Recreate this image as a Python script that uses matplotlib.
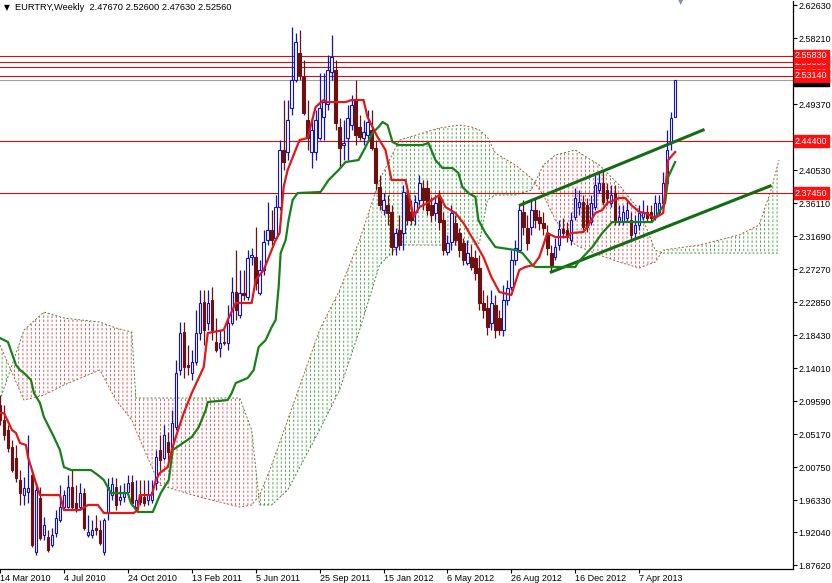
import numpy as np
import matplotlib.pyplot as plt
import matplotlib.transforms as mtransforms
from matplotlib.patches import Rectangle

TITLE = "EURTRY,Weekly  2.47670 2.52600 2.47630 2.52560"

# weekly candles, bar 0 = week of 14 Mar 2010
opens = [
    2.0908, 2.0707, 2.0574, 2.0346, 2.0199, 1.9904, 1.9703, 1.9743, 1.9971, 1.8940,
    1.9663, 1.9168, 1.9141, 1.9034, 1.9195, 1.9369, 1.9543, 1.9543, 1.9810, 1.9597,
    1.9543, 1.9730, 1.9168, 1.9168, 1.9262, 1.9235, 1.8940, 1.9463, 1.9703, 1.9810,
    1.9637, 1.9676, 1.9743, 1.9877, 1.9543, 1.9703, 1.9676, 1.9637, 1.9637, 1.9864,
    2.0306, 2.0199, 2.0413, 2.0346, 2.0613, 2.1377, 2.1885, 2.1444, 2.1337, 2.1484,
    2.1872, 2.2287, 2.2006, 2.2314, 2.1751, 2.1672, 2.1751, 2.1738, 2.2006, 2.2421,
    2.2113, 2.2408, 2.2354, 2.2889, 2.2889, 2.2408, 2.2716, 2.3117, 2.3251, 2.3144,
    2.3559, 2.4322, 2.4295, 2.4884, 2.5259, 2.5621, 2.5299, 2.4724, 2.4295, 2.4295,
    2.4483, 2.4764, 2.4937, 2.5366, 2.5393, 2.4630, 2.4389, 2.4483, 2.4657, 2.4991,
    2.4630, 2.4483, 2.4523, 2.4590, 2.4349, 2.3827, 2.3519, 2.3586, 2.3492, 2.3023,
    2.3251, 2.3211, 2.3720, 2.3492, 2.3492, 2.3653, 2.3813, 2.3813, 2.3586, 2.3479,
    2.3693, 2.3385, 2.2956, 2.3090, 2.3345, 2.3211, 2.3077, 2.2809, 2.2889, 2.2876,
    2.2742, 2.2274, 2.2207, 2.2006, 2.2247, 2.2073, 2.1912, 2.2314, 2.2488, 2.2849,
    2.2983, 2.3492, 2.3278, 2.3291, 2.3519, 2.3425, 2.3345, 2.3211, 2.2943, 2.2889,
    2.3050, 2.3265, 2.3251, 2.3117, 2.3425, 2.3559, 2.3626, 2.3586, 2.3358, 2.3559,
    2.3786, 2.3880, 2.3786, 2.3613, 2.3746, 2.3358, 2.3358, 2.3412, 2.3385, 2.3211,
    2.3318, 2.3425, 2.3492, 2.3492, 2.3425, 2.3492, 2.3613, 2.3880, 2.4429, 2.4767,
]
highs = [
    2.1042, 2.0908, 2.0640, 2.0440, 2.0373, 2.0038, 1.9944, 2.0507, 2.0038, 1.9864,
    1.9810, 1.9409, 1.9235, 1.9262, 1.9503, 1.9837, 1.9770, 1.9971, 2.0038, 1.9837,
    1.9864, 1.9797, 1.9436, 1.9369, 1.9436, 1.9369, 1.9396, 1.9931, 1.9944, 1.9931,
    1.9837, 1.9864, 1.9971, 1.9971, 1.9904, 1.9904, 1.9904, 1.9904, 1.9904, 2.0306,
    2.0507, 2.0640, 2.0547, 2.0841, 2.1511, 2.2019, 2.2019, 2.1711, 2.1645, 2.2180,
    2.2448, 2.2448, 2.2448, 2.2488, 2.2073, 2.1912, 2.1912, 2.2247, 2.2622, 2.2983,
    2.2716, 2.2716, 2.2983, 2.3010, 2.3291, 2.2849, 2.3251, 2.3626, 2.3519, 2.3720,
    2.4456, 2.4991, 2.4991, 2.5969, 2.5888, 2.5928, 2.5527, 2.4991, 2.4750, 2.4857,
    2.5353, 2.5353, 2.5594, 2.5862, 2.5527, 2.4750, 2.4724, 2.4924, 2.5058, 2.5259,
    2.4790, 2.4724, 2.4857, 2.4857, 2.4456, 2.3987, 2.3746, 2.3720, 2.3586, 2.3278,
    2.3452, 2.3853, 2.3786, 2.3653, 2.3720, 2.3987, 2.3920, 2.3920, 2.3693, 2.3720,
    2.3786, 2.3492, 2.3184, 2.3586, 2.3452, 2.3278, 2.3144, 2.3117, 2.3050, 2.2983,
    2.2916, 2.2448, 2.2381, 2.2448, 2.2381, 2.2180, 2.2515, 2.2582, 2.2983, 2.3117,
    2.3586, 2.3653, 2.3452, 2.3653, 2.3680, 2.3519, 2.3492, 2.3318, 2.3050, 2.3144,
    2.3385, 2.3412, 2.3358, 2.3492, 2.3813, 2.3786, 2.3720, 2.3680, 2.3720, 2.3987,
    2.4027, 2.4054, 2.3880, 2.3853, 2.3853, 2.3586, 2.3586, 2.3653, 2.3492, 2.3452,
    2.3586, 2.3653, 2.3586, 2.3586, 2.3720, 2.3720, 2.4027, 2.4590, 2.4830, 2.5260,
]
lows = [
    2.0640, 2.0440, 2.0279, 2.0011, 1.9877, 1.9570, 1.9570, 1.9597, 1.9007, 1.8900,
    1.9101, 1.9101, 1.8940, 1.9007, 1.9141, 1.9342, 1.9503, 1.9530, 1.9503, 1.9476,
    1.9503, 1.9235, 1.9141, 1.9128, 1.9168, 1.9034, 1.8900, 1.9369, 1.9637, 1.9503,
    1.9570, 1.9610, 1.9703, 1.9557, 1.9503, 1.9570, 1.9557, 1.9570, 1.9597, 1.9770,
    2.0038, 2.0172, 2.0172, 2.0306, 2.0574, 2.1310, 2.1270, 2.1310, 2.1243, 2.1444,
    2.1778, 2.1711, 2.1912, 2.1778, 2.1618, 2.1551, 2.1711, 2.1645, 2.1979, 2.2046,
    2.2073, 2.2314, 2.2314, 2.2782, 2.2448, 2.2381, 2.2649, 2.3050, 2.3050, 2.3117,
    2.3519, 2.4054, 2.4188, 2.4790, 2.5232, 2.5259, 2.4790, 2.4322, 2.4081, 2.4188,
    2.4456, 2.4456, 2.4857, 2.5259, 2.4590, 2.4081, 2.4188, 2.4188, 2.4590, 2.4389,
    2.4456, 2.4389, 2.4456, 2.4322, 2.3786, 2.3519, 2.3452, 2.3318, 2.2916, 2.2916,
    2.2983, 2.2983, 2.3318, 2.3318, 2.3318, 2.3586, 2.3519, 2.3452, 2.3358, 2.3385,
    2.3251, 2.2916, 2.2916, 2.2983, 2.3050, 2.2889, 2.2782, 2.2782, 2.2716, 2.2582,
    2.2180, 2.2073, 2.1845, 2.1912, 2.1805, 2.1845, 2.1832, 2.2247, 2.2448, 2.2782,
    2.2956, 2.3184, 2.2983, 2.3184, 2.3278, 2.3251, 2.3184, 2.2916, 2.2689, 2.2849,
    2.2983, 2.3144, 2.3090, 2.3050, 2.3385, 2.3452, 2.3224, 2.3224, 2.3318, 2.3519,
    2.3746, 2.3586, 2.3586, 2.3559, 2.3318, 2.3318, 2.3318, 2.3358, 2.3117, 2.3144,
    2.3251, 2.3385, 2.3358, 2.3358, 2.3385, 2.3452, 2.3586, 2.3853, 2.4322, 2.4763,
]
closes = [
    2.0707, 2.0507, 2.0333, 2.0038, 1.9931, 1.9730, 1.9797, 1.9797, 1.9034, 1.9770,
    1.9128, 1.9302, 1.8967, 1.9168, 1.9396, 1.9543, 1.9703, 1.9810, 1.9543, 1.9530,
    1.9730, 1.9262, 1.9208, 1.9235, 1.9235, 1.9061, 1.9369, 1.9810, 1.9850, 1.9570,
    1.9676, 1.9730, 1.9864, 1.9597, 1.9637, 1.9610, 1.9597, 1.9703, 1.9743, 2.0212,
    2.0172, 2.0507, 2.0279, 2.0667, 2.1337, 2.1872, 2.1417, 2.1417, 2.1484, 2.1872,
    2.2274, 2.1912, 2.2274, 2.1912, 2.1645, 2.1738, 2.1738, 2.2006, 2.2421, 2.2180,
    2.2408, 2.2381, 2.2876, 2.2916, 2.2542, 2.2716, 2.3090, 2.3251, 2.3117, 2.3559,
    2.4322, 2.4161, 2.4724, 2.5259, 2.5768, 2.5326, 2.4817, 2.4483, 2.4590, 2.4724,
    2.4884, 2.4964, 2.5393, 2.5567, 2.4683, 2.4349, 2.4416, 2.4750, 2.4924, 2.4523,
    2.4496, 2.4563, 2.4697, 2.4349, 2.3880, 2.3586, 2.3653, 2.3479, 2.3023, 2.3211,
    2.3050, 2.3760, 2.3385, 2.3385, 2.3626, 2.3880, 2.3653, 2.3519, 2.3452, 2.3613,
    2.3358, 2.2983, 2.3077, 2.3479, 2.3117, 2.2983, 2.2849, 2.2943, 2.2756, 2.2675,
    2.2274, 2.2180, 2.1952, 2.2274, 2.1912, 2.1912, 2.2314, 2.2475, 2.2849, 2.3010,
    2.3519, 2.3291, 2.3077, 2.3519, 2.3385, 2.3345, 2.3278, 2.3010, 2.2756, 2.3023,
    2.3265, 2.3211, 2.3157, 2.3385, 2.3680, 2.3626, 2.3291, 2.3291, 2.3613, 2.3853,
    2.3880, 2.3626, 2.3680, 2.3720, 2.3385, 2.3425, 2.3492, 2.3519, 2.3184, 2.3318,
    2.3479, 2.3492, 2.3412, 2.3412, 2.3613, 2.3613, 2.3880, 2.4322, 2.4750, 2.5256,
]

# Ichimoku lines (bar, price)
tenkan_bars = [
    0, 1, 3, 4, 5, 6.5, 7, 8, 9, 10, 15, 16, 20, 22, 24.5, 26, 33.5, 34.5, 35, 38,
    39, 40, 42, 43, 44, 46, 48, 51, 52, 56, 57, 59, 63, 64, 66, 67, 69, 70, 71, 72,
    73, 75, 77, 79, 81, 82, 86.5, 88, 91, 92, 94.5, 96.5, 98, 101.5, 103, 103.5, 105,
    107, 110, 111.5, 114, 116, 119, 121, 123, 125, 128, 130, 131.5, 133.5, 135, 137,
    139, 142, 143, 146, 147, 149, 150.75, 152, 155, 156.5, 158, 160, 161.5, 164, 166,
    167, 167.25, 169,
]
tenkan = [
    2.0801, 2.0801, 2.0574, 2.0534, 2.0400, 2.0373, 2.0212, 2.0038, 1.9864, 1.9703,
    1.9703, 1.9503, 1.9503, 1.9570, 1.9570, 1.9463, 1.9463, 1.9503, 1.9703, 1.9703,
    1.9904, 1.9998, 2.0078, 2.0306, 2.0480, 2.0801, 2.1069, 2.1417, 2.1872, 2.1912,
    2.2046, 2.2274, 2.2274, 2.2582, 2.2716, 2.2849, 2.3117, 2.3211, 2.3827, 2.4054,
    2.4188, 2.4456, 2.4483, 2.4898, 2.4991, 2.4964, 2.4964, 2.4991, 2.4991, 2.4764,
    2.4496, 2.4322, 2.3920, 2.3920, 2.3559, 2.3425, 2.3559, 2.3613, 2.3720, 2.3559,
    2.3479, 2.3345, 2.3077, 2.2889, 2.2622, 2.2421, 2.2381, 2.2716, 2.2756, 2.2782,
    2.2889, 2.3211, 2.3157, 2.3157, 2.3211, 2.3224, 2.3291, 2.3479, 2.3519, 2.3613,
    2.3680, 2.3680, 2.3586, 2.3492, 2.3479, 2.3412, 2.3479, 2.4054, 2.4188, 2.4295,
]
kijun_bars = [
    0, 2, 4, 5, 6, 7.75, 8.5, 10, 11, 13.5, 15, 16, 17.75, 22.75, 24.5, 26, 27.75, 32,
    32.75, 34.5, 38.25, 39.5, 40.25, 42.25, 43.25, 48, 49.75, 51.5, 52, 57, 58, 59, 62,
    63.5, 64.75, 66.5, 68, 69, 69.75, 70.25, 71.5, 72.25, 73.25, 74.5, 80.25, 82.25,
    84.75, 86.5, 89.75, 91.5, 93.25, 94.75, 95.75, 97, 98.25, 99.75, 105.75, 107.25,
    109, 110.75, 113.25, 114.75, 115.75, 117.25, 119, 119.75, 121.5, 124, 129, 130.75,
    133.25, 134, 144, 144.75, 148.25, 149.5, 150.75, 153.25, 163.25, 166.5, 167.25, 169,
]
kijun = [
    2.1805, 2.1751, 2.1444, 2.1377, 2.1337, 2.1243, 2.1069, 2.0935, 2.0747, 2.0480,
    2.0306, 2.0078, 2.0038, 2.0038, 1.9971, 1.9904, 1.9730, 1.9730, 1.9597, 1.9476,
    1.9476, 1.9637, 1.9730, 1.9904, 2.0306, 2.0480, 2.0613, 2.0841, 2.0948, 2.0975,
    2.1069, 2.1203, 2.1270, 2.1377, 2.1685, 2.1778, 2.1952, 2.2046, 2.2488, 2.2943,
    2.3117, 2.3385, 2.3653, 2.3746, 2.3760, 2.3920, 2.4054, 2.4161, 2.4188, 2.4362,
    2.4550, 2.4630, 2.4697, 2.4657, 2.4429, 2.4389, 2.4389, 2.4416, 2.4188, 2.4081,
    2.4081, 2.4014, 2.3827, 2.3746, 2.3693, 2.3385, 2.3211, 2.3023, 2.2983, 2.2943,
    2.2782, 2.2756, 2.2756, 2.2822, 2.3023, 2.3117, 2.3211, 2.3358, 2.3358, 2.3613,
    2.3961, 2.4161,
]
cloud_bars = [0, 6, 11, 16, 25, 29, 33, 34, 37, 40, 50, 60, 63, 65, 68, 72, 80, 85,
              90, 95, 100, 110, 115, 118, 120, 122, 124, 129, 133, 136, 139, 144,
              150, 155, 160, 164, 166, 175, 185, 190, 193, 195]
span_a = [2.1711, 2.0975, 2.1042, 2.1176, 2.1377, 2.0975, 2.0707, 2.0574, 2.0199,
          1.9837, 1.9676, 1.9543, 1.9570, 1.9703, 2.0105, 2.0707, 2.1912, 2.2448,
          2.3117, 2.3920, 2.4456, 2.4617, 2.4657, 2.4630, 2.4590, 2.4496, 2.4282,
          2.4121, 2.3947, 2.3720, 2.3385, 2.3050, 2.2916, 2.2822, 2.2743, 2.2822,
          2.2983, 2.3050, 2.3184, 2.3318, 2.3786, 2.4188]
span_b = [2.0975, 2.1912, 2.2153, 2.2073, 2.2019, 2.1939, 2.1885, 2.1002, 2.1002,
          2.1002, 2.1002, 2.1002, 2.0574, 1.9570, 1.9570, 1.9770, 2.0574, 2.1109,
          2.1912, 2.2782, 2.3050, 2.3050, 2.3050, 2.3050, 2.3077, 2.3653, 2.3720,
          2.3720, 2.3786, 2.4121, 2.4255, 2.4322, 2.4121, 2.3853, 2.3519, 2.2983,
          2.2943, 2.2943, 2.2943, 2.2943, 2.2943, 2.2943]

# drawn objects
levels = [2.5583, 2.5500, 2.5430, 2.5314, 2.4440, 2.3745]
bid = 2.5256
chan_upper_bars = [130.25, 176]
chan_upper = [2.3586, 2.4590]
chan_lower_bars = [138, 192.75]
chan_lower = [2.2689, 2.3840]

ytick_vals = [2.6263, 2.5821, 2.5379, 2.4937, 2.4495, 2.4053, 2.3611, 2.3169, 2.2727,
              2.2285, 2.1843, 2.1401, 2.0959, 2.0517, 2.0075, 1.9633, 1.9204, 1.8762]
date_bars = [0, 16, 32, 48, 64, 80, 96, 112, 128, 144, 160]
date_labels = ["14 Mar 2010", "4 Jul 2010", "24 Oct 2010", "13 Feb 2011", "5 Jun 2011",
               "25 Sep 2011", "15 Jan 2012", "6 May 2012", "26 Aug 2012", "16 Dec 2012",
               "7 Apr 2013"]

BULL = "#1010d0"
BEAR = "#6e1010"
FS = 6.5
FONT = ["Liberation Sans", "DejaVu Sans"]


def draw_cloud(ax):
    a = np.array(span_a)
    b = np.array(span_b)
    up = a >= b
    plt.rcParams["hatch.linewidth"] = 0.6
    ax.fill_between(cloud_bars, a, b, where=up, interpolate=True,
                    facecolor="none", edgecolor="#3a9a3a", hatch="||||", lw=0, zorder=1)
    ax.fill_between(cloud_bars, a, b, where=~up, interpolate=True,
                    facecolor="none", edgecolor="#d04848", hatch="||||", lw=0, zorder=1)
    # break the hatch into dots like the terminal does
    plt.rcParams["hatch.linewidth"] = 1.3
    ax.fill_between(cloud_bars, a, b, interpolate=True, facecolor="none",
                    edgecolor="white", hatch="----", lw=0, zorder=1.2)
    ax.plot(cloud_bars, a, color="#b05a3c", lw=0.7, ls=(0, (2, 2)), zorder=1.5)
    ax.plot(cloud_bars, b, color="#3c8a3c", lw=0.7, ls=(0, (2, 2)), zorder=1.5)


def draw_candles(ax):
    for i, (o, h, l, c) in enumerate(zip(opens, highs, lows, closes)):
        up = c >= o
        col = BULL if up else BEAR
        ax.vlines(i, l, h, color=col, lw=0.9, zorder=4)
        lo, hi = min(o, c), max(o, c)
        ax.add_patch(Rectangle((i - 0.3, lo), 0.6, max(hi - lo, 0.0004),
                               facecolor="white" if up else BEAR, edgecolor=col,
                               lw=0.8, zorder=5))


def price_box(ax, y, text, fc, tc="white"):
    trans = mtransforms.blended_transform_factory(ax.transAxes, ax.transData)
    ax.text(1.0025, y, text, transform=trans, fontsize=FS, color=tc, va="center",
            ha="left", clip_on=False, zorder=20, family=FONT,
            bbox=dict(boxstyle="square,pad=0.15", fc=fc, ec=fc))


def main():
    plt.rcParams["font.family"] = FONT
    fig = plt.figure(figsize=(8.32, 5.83), dpi=100)
    ax = fig.add_axes([0, 14 / 583, 793 / 832, 568 / 583])

    draw_cloud(ax)
    for lv in levels:
        ax.axhline(lv, color="#d01010", lw=0.8, zorder=2)
    ax.axhline(bid, color="#a0a0a0", lw=0.8, zorder=2)
    ax.plot(chan_upper_bars, chan_upper, color="#136b13", lw=2.2, zorder=6)
    ax.plot(chan_lower_bars, chan_lower, color="#136b13", lw=2.2, zorder=6)
    ax.plot(kijun_bars, kijun, color="#17801a", lw=1.6, zorder=6)
    ax.plot(tenkan_bars, tenkan, color="#e01818", lw=1.6, zorder=6.5)
    draw_candles(ax)

    ax.set_xlim(0.25, 198.5)
    ax.set_ylim(1.8713, 2.6317)
    for s in ("top", "left"):
        ax.spines[s].set_visible(False)
    for s in ("right", "bottom"):
        ax.spines[s].set_linewidth(0.9)

    ax.yaxis.tick_right()
    ax.set_yticks(ytick_vals)
    ax.set_yticklabels([f"{v:.5f}" for v in ytick_vals], fontsize=FS)
    ax.set_xticks(date_bars)
    ax.set_xticklabels(date_labels, fontsize=FS, ha="left")
    ax.tick_params(axis="both", length=3, width=0.8, pad=1.0, direction="out")
    ax.tick_params(axis="x", pad=0.8)

    price_box(ax, bid, "2.52560", "black")
    price_box(ax, levels[2], "2.54300", "#ff1010")
    price_box(ax, levels[1], "2.55000", "#ff1010")
    price_box(ax, levels[3], "2.53140", "#ff1010")
    price_box(ax, levels[0], "2.55830", "#ff1010")
    price_box(ax, levels[4], "2.44400", "#ff1010")
    price_box(ax, levels[5], "2.37450", "#ff1010")

    fig.text(4 / 832, 1 - 8 / 583, "\u25bc", fontsize=5.5, va="center",
             family="DejaVu Sans")
    fig.text(15 / 832, 1 - 8 / 583, TITLE, fontsize=6.7, va="center")
    fig.text(681 / 832, 1 - 2 / 583, "\u25bc", fontsize=5, color="#8090a0",
             va="center", ha="center", family="DejaVu Sans")

    fig.savefig("out.png", dpi=100)
    plt.close(fig)


if __name__ == "__main__":
    main()
